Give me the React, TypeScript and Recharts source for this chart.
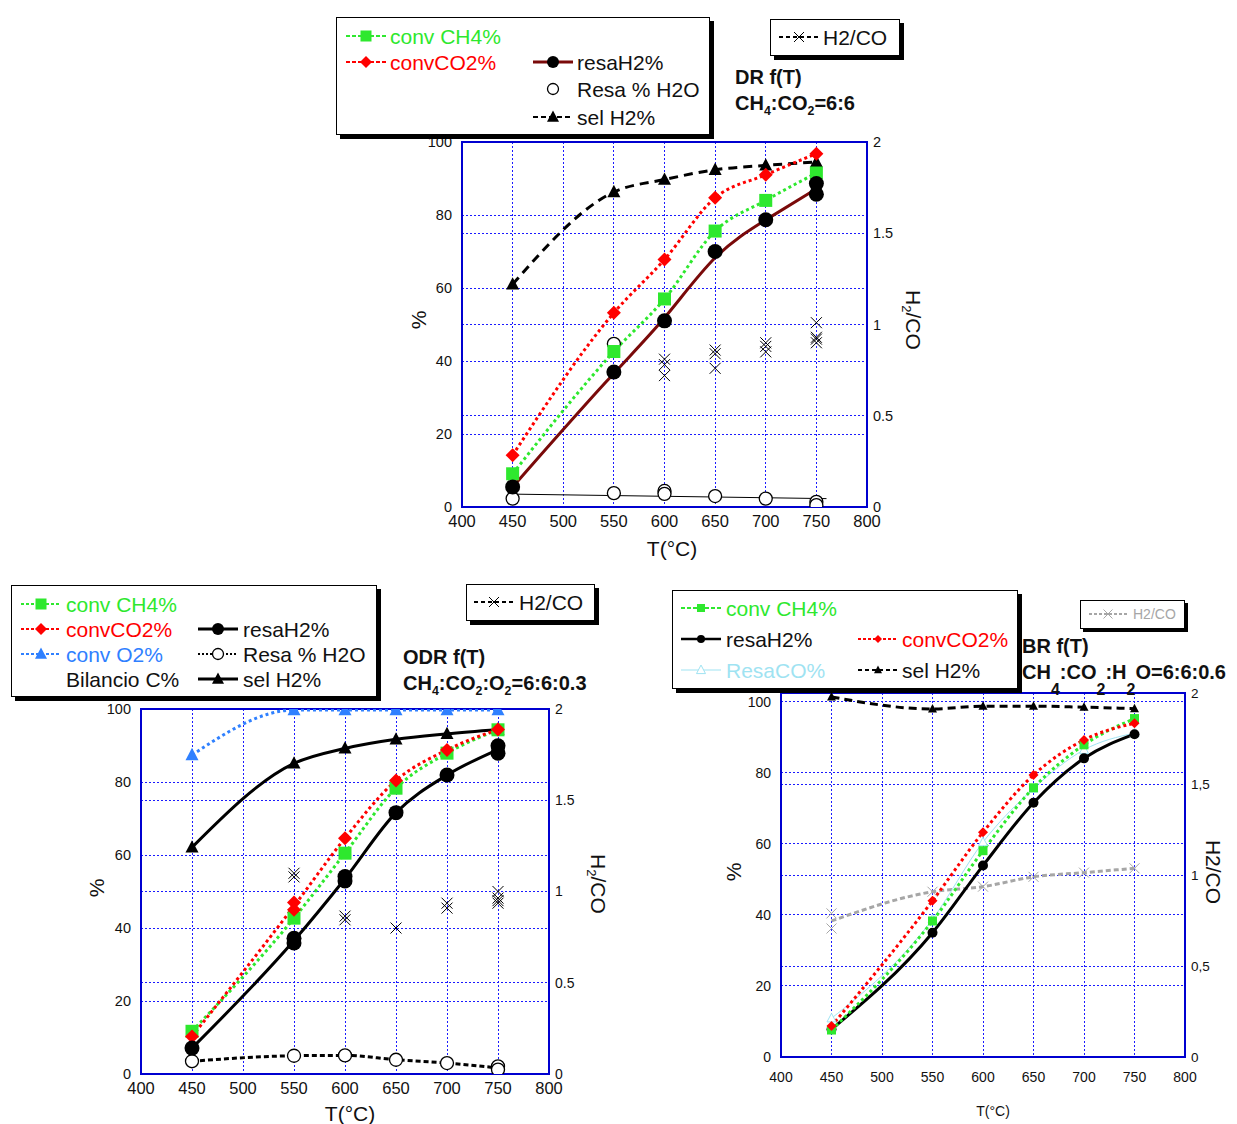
import React from 'react';
import { ComposedChart, Line, Scatter, XAxis, YAxis, CartesianGrid, ReferenceArea } from 'recharts';

type Pt = { t: number; v: number };

// temperatures (°C) and axis ticks
const temps = [450, 550, 600, 650, 700, 750];
const xTicks = [400, 450, 500, 550, 600, 650, 700, 750, 800];
const pctTicks = [0, 20, 40, 60, 80, 100];
const ratioTicks = [0, 0.5, 1, 1.5, 2];

// DR  CH4:CO2 = 6:6
const drConvCH4 = [9.1, 42.6, 57, 75.6, 84, 91.5];
const drConvCO2 = [14.2, 53.2, 67.8, 84.7, 91, 96.8];
const drResaH2 = [5.5, 37, 51, 70, 78.7, 88.6];
const drResaH2Rep = [[750, 85.7]];
const drResaH2O = [2.3, 3.8, 4.4, 3, 2.3, 1.4];
const drResaH2ORep = [[550, 44.7], [600, 3.6], [750, 0.5]];
const drSelH2 = [61, 86.3, 89.7, 92.4, 93.6, 94.5];
const drH2CO = [
  [600, 0.81], [600, 0.78], [600, 0.72], [650, 0.86], [650, 0.84], [650, 0.76],
  [700, 0.9], [700, 0.88], [700, 0.85], [750, 1.01], [750, 0.93], [750, 0.92], [750, 0.9],
];

// ODR  CH4:CO2:O2 = 6:6:0.3
const odrConvCH4 = [11.7, 42.7, 60.5, 78.3, 87.9, 94.3];
const odrConvCO2 = [10.3, 47, 64.6, 80.4, 88.8, 94.4];
const odrConvCO2Rep = [[550, 45]];
const odrConvO2 = [87.4, 99.7, 99.7, 99.7, 99.7, 99.7];
const odrResaH2 = [7.1, 37.2, 54.1, 71.6, 81.9, 89.9];
const odrResaH2Rep = [[550, 35.9], [600, 52.9], [750, 87.9]];
const odrResaH2O = [3.5, 5, 5.1, 3.9, 3, 2.1];
const odrResaH2ORep = [[750, 1.2]];
const odrSelH2 = [62.1, 85.1, 89.2, 91.7, 93.2, 94.4];
const odrH2CO = [
  [550, 1.1], [550, 1.08], [600, 0.865], [600, 0.845], [650, 0.8], [700, 0.936], [700, 0.909],
  [750, 1.0], [750, 0.964], [750, 0.95], [750, 0.936],
];

// BR  CH4:CO2:H2O = 6:6:0.6
const brSelH2 = [101.4, 98.0, 98.8, 98.8, 98.5, 98.1];
const brConvCH4 = [7.6, 38.3, 58.1, 75.8, 87.9, 95.3];
const brConvCO2 = [8.7, 44, 63.3, 79.4, 89.3, 94];
const brResaH2 = [7.8, 35, 53.9, 71.6, 84.1, 90.9];
const brResaCO = [10.9, 38.8, 60.5, 75.6, 86.5, 91.2];
const brH2CO = [0.789, 0.908, 0.936, 0.99, 1.013, 1.037];
const brH2CORep = [[450, 0.706]];

const FONT = '"Liberation Sans", Arial, sans-serif';
const GREEN = '#2ee82e';
const RED = '#ff0000';
const BLUE = '#2f80ff';
const MAROON = '#7a0a0a';
const CYAN = '#9fe3f2';
const GREY = '#a6a6a6';
const GRID = '#1a1aff';

const pts = (ys: number[]): Pt[] => temps.map((t, i) => ({ t, v: ys[i] }));
const pairs = (ps: number[][]): Pt[] => ps.map(([t, v]) => ({ t, v }));
const meanByTemp = (ps: Pt[]): Pt[] => {
  const ts = Array.from(new Set(ps.map((p) => p.t))).sort((a, b) => a - b);
  return ts.map((t) => {
    const vs = ps.filter((p) => p.t === t).map((p) => p.v);
    return { t, v: vs.reduce((a, b) => a + b, 0) / vs.length };
  });
};
// least-squares straight line, drawn between two temperatures
const linearTrend = (ps: Pt[], from: number, to: number): Pt[] => {
  const n = ps.length;
  const mx = ps.reduce((a, p) => a + p.t, 0) / n;
  const my = ps.reduce((a, p) => a + p.v, 0) / n;
  const sxy = ps.reduce((a, p) => a + (p.t - mx) * (p.v - my), 0);
  const sxx = ps.reduce((a, p) => a + (p.t - mx) ** 2, 0);
  const k = sxy / sxx;
  return [from, to].map((t) => ({ t, v: my + k * (t - mx) }));
};

// marker shapes
type Shape = (p: any) => React.ReactElement;
const square = (fill: string, s: number): Shape => (p) => (
  <rect x={p.cx - s / 2} y={p.cy - s / 2} width={s} height={s} fill={fill} />
);
const diamond = (fill: string, s: number): Shape => (p) => (
  <polygon
    points={`${p.cx},${p.cy - s / 2} ${p.cx + s / 2},${p.cy} ${p.cx},${p.cy + s / 2} ${p.cx - s / 2},${p.cy}`}
    fill={fill}
  />
);
const dot = (fill: string, r: number): Shape => (p) => <circle cx={p.cx} cy={p.cy} r={r} fill={fill} />;
const ring = (stroke: string, r: number): Shape => (p) => (
  <circle cx={p.cx} cy={p.cy} r={r} fill="#fff" stroke={stroke} strokeWidth={1.3} />
);
const tri = (fill: string, s: number, open = false): Shape => (p) => (
  <polygon
    points={`${p.cx},${p.cy - s * 0.55} ${p.cx + s / 2},${p.cy + s * 0.4} ${p.cx - s / 2},${p.cy + s * 0.4}`}
    fill={open ? '#fff' : fill}
    stroke={fill}
    strokeWidth={open ? 1 : 0}
  />
);
const xMark = (stroke: string, s: number, w = 1): Shape => (p) => (
  <path
    d={`M${p.cx - s / 2},${p.cy - s / 2}L${p.cx + s / 2},${p.cy + s / 2}M${p.cx - s / 2},${p.cy + s / 2}L${p.cx + s / 2},${p.cy - s / 2}`}
    stroke={stroke}
    strokeWidth={w}
    fill="none"
  />
);

type Series = {
  id: string;
  axis: 'l' | 'r';
  marks: Pt[];
  shape: Shape;
  line?: Pt[];
  stroke?: string;
  width?: number;
  dash?: string;
  curve?: 'monotone' | 'linear' | 'basis';
};

const drResaH2All = [...pts(drResaH2), ...pairs(drResaH2Rep)];
const drSeries: Series[] = [
  {
    id: 'h2o', axis: 'l', marks: [...pts(drResaH2O), ...pairs(drResaH2ORep)], shape: ring('#000', 6.5),
    line: linearTrend(pts(drResaH2O), 450, 760), stroke: '#000', width: 1, curve: 'linear',
  },
  { id: 'sel', axis: 'l', marks: pts(drSelH2), shape: tri('#000', 13), line: pts(drSelH2), stroke: '#000', width: 3, dash: '9 6' },
  { id: 'ch4', axis: 'l', marks: pts(drConvCH4), shape: square(GREEN, 13), line: pts(drConvCH4), stroke: GREEN, width: 3, dash: '3 3' },
  { id: 'co2', axis: 'l', marks: pts(drConvCO2), shape: diamond(RED, 14), line: pts(drConvCO2), stroke: RED, width: 3, dash: '3 3' },
  { id: 'h2', axis: 'l', marks: drResaH2All, shape: dot('#000', 7.5), line: meanByTemp(drResaH2All), stroke: MAROON, width: 3, curve: 'basis' },
  { id: 'h2co', axis: 'r', marks: pairs(drH2CO), shape: xMark('#000', 11) },
];

const odrResaH2All = [...pts(odrResaH2), ...pairs(odrResaH2Rep)];
const odrConvCO2All = [...pts(odrConvCO2), ...pairs(odrConvCO2Rep)];
const odrResaH2OAll = [...pts(odrResaH2O), ...pairs(odrResaH2ORep)];
const odrSeries: Series[] = [
  { id: 'h2o', axis: 'l', marks: odrResaH2OAll, shape: ring('#000', 6.5), line: meanByTemp(odrResaH2OAll), stroke: '#000', width: 3, dash: '5 3' },
  { id: 'o2', axis: 'l', marks: pts(odrConvO2), shape: tri(BLUE, 13), line: pts(odrConvO2), stroke: BLUE, width: 3, dash: '3 3' },
  { id: 'sel', axis: 'l', marks: pts(odrSelH2), shape: tri('#000', 13), line: pts(odrSelH2), stroke: '#000', width: 3 },
  { id: 'ch4', axis: 'l', marks: pts(odrConvCH4), shape: square(GREEN, 13), line: pts(odrConvCH4), stroke: GREEN, width: 3, dash: '3 3' },
  { id: 'co2', axis: 'l', marks: odrConvCO2All, shape: diamond(RED, 14), line: meanByTemp(odrConvCO2All), stroke: RED, width: 3, dash: '3 3' },
  { id: 'h2', axis: 'l', marks: odrResaH2All, shape: dot('#000', 7.5), line: meanByTemp(odrResaH2All), stroke: '#000', width: 3 },
  { id: 'h2co', axis: 'r', marks: pairs(odrH2CO), shape: xMark('#000', 11) },
];

const brH2COAll = [...pts(brH2CO), ...pairs(brH2CORep)];
const brSeries: Series[] = [
  { id: 'h2co', axis: 'r', marks: brH2COAll, shape: xMark(GREY, 10), line: meanByTemp(brH2COAll), stroke: GREY, width: 3, dash: '5 3' },
  { id: 'sel', axis: 'l', marks: pts(brSelH2), shape: tri('#000', 9), line: pts(brSelH2), stroke: '#000', width: 3, dash: '8 5' },
  { id: 'co', axis: 'l', marks: pts(brResaCO), shape: tri(CYAN, 9, true), line: pts(brResaCO), stroke: CYAN, width: 1 },
  { id: 'h2', axis: 'l', marks: pts(brResaH2), shape: dot('#000', 5), line: pts(brResaH2), stroke: '#000', width: 3 },
  { id: 'ch4', axis: 'l', marks: pts(brConvCH4), shape: square(GREEN, 9), line: pts(brConvCH4), stroke: GREEN, width: 3, dash: '3 3' },
  { id: 'co2', axis: 'l', marks: pts(brConvCO2), shape: diamond(RED, 10), line: pts(brConvCO2), stroke: RED, width: 3, dash: '3 3' },
];

type PanelProps = {
  left: number;
  top: number;
  width: number;
  height: number;
  margin: { top: number; right: number; bottom: number; left: number };
  yMax: number;
  ratioFmt: (v: number) => string;
  xFs: number;
  yFs: number;
  rFs: number;
  xGap?: number;
  series: Series[];
};

function Panel({ left, top, width, height, margin, yMax, ratioFmt, xFs, yFs, rFs, xGap = 2, series }: PanelProps) {
  return (
    <div style={{ position: 'absolute', left, top }}>
      <ComposedChart width={width} height={height} margin={margin} style={{ fontFamily: FONT }}>
        <CartesianGrid yAxisId="l" stroke={GRID} strokeDasharray="2 2" strokeWidth={1} shapeRendering="crispEdges" />
        <CartesianGrid yAxisId="r" vertical={false} stroke={GRID} strokeDasharray="2 2" strokeWidth={1} shapeRendering="crispEdges" />
        <XAxis
          dataKey="t" type="number" domain={[400, 800]} ticks={xTicks} interval={0} allowDataOverflow
          axisLine={false} tickLine={false} height={30} tickMargin={xGap} tick={{ fill: '#111', fontSize: xFs }}
        />
        <YAxis
          yAxisId="l" dataKey="v" type="number" domain={[0, yMax]} ticks={pctTicks} interval={0} allowDataOverflow
          axisLine={false} tickLine={false} width={60} tickMargin={4} tick={{ fill: '#111', fontSize: yFs }}
        />
        <YAxis
          yAxisId="r" orientation="right" dataKey="v" type="number" domain={[0, 2]} ticks={ratioTicks} interval={0}
          allowDataOverflow axisLine={false} tickLine={false} width={50} tickSize={4} tickMargin={2}
          tickFormatter={ratioFmt} tick={{ fill: '#111', fontSize: rFs }}
        />
        <ReferenceArea
          yAxisId="l" x1={400} x2={800} y1={0} y2={yMax} fill="none" stroke="#0000d0" strokeWidth={2} ifOverflow="visible"
        />
        {series
          .filter((s) => s.line)
          .map((s) => (
            <Line
              key={`line-${s.id}`}
              data={s.line}
              dataKey="v"
              yAxisId={s.axis}
              type={s.curve ?? 'monotone'}
              stroke={s.stroke}
              strokeWidth={s.width}
              strokeDasharray={s.dash}
              dot={false}
              activeDot={false}
              isAnimationActive={false}
            />
          ))}
        {series.map((s) => (
          <Scatter key={`mk-${s.id}`} data={s.marks} dataKey="v" yAxisId={s.axis} shape={s.shape} isAnimationActive={false} />
        ))}
      </ComposedChart>
    </div>
  );
}

// legend glyph: short line with the series marker in the middle
function Glyph({ stroke, width = 2, dash, shape, len = 42 }: { stroke?: string; width?: number; dash?: string; shape?: Shape; len?: number }) {
  return (
    <svg width={len} height={16} style={{ display: 'block' }}>
      {stroke && <line x1={1} y1={8} x2={len - 1} y2={8} stroke={stroke} strokeWidth={width} strokeDasharray={dash} />}
      {shape && shape({ cx: len / 2, cy: 8 })}
    </svg>
  );
}

function Entry({ gx, tx, y, glyph, label, color = '#111', size = 21, len }: {
  gx?: number; tx: number; y: number; glyph?: React.ReactElement; label: React.ReactNode; color?: string; size?: number; len?: number;
}) {
  return (
    <>
      {glyph && gx !== undefined && (
        <div style={{ position: 'absolute', left: gx, top: y - 8, width: len }}>{glyph}</div>
      )}
      <div style={{ position: 'absolute', left: tx, top: y, transform: 'translateY(-50%)', color, fontSize: size, whiteSpace: 'nowrap', lineHeight: 1 }}>
        {label}
      </div>
    </>
  );
}

function Box({ x, y, w, h, shadow = 4 }: { x: number; y: number; w: number; h: number; shadow?: number }) {
  return (
    <div
      style={{
        position: 'absolute', left: x, top: y, width: w, height: h, boxSizing: 'border-box',
        border: '1.5px solid #000', background: '#fff', boxShadow: `${shadow}px ${shadow}px 0 #000`,
      }}
    />
  );
}

function Text({ x, y, children, size = 20, bold = false, color = '#111', rotate = 0, center = false }: {
  x: number; y: number; children: React.ReactNode; size?: number; bold?: boolean; color?: string; rotate?: number; center?: boolean;
}) {
  return (
    <div
      style={{
        position: 'absolute', left: x, top: y, fontSize: size, fontWeight: bold ? 700 : 400, color, whiteSpace: 'nowrap', lineHeight: 1,
        transform: center ? `translate(-50%, -50%) rotate(${rotate}deg)` : 'translateY(-50%)',
      }}
    >
      {children}
    </div>
  );
}

const sub = (s: string, drop = 5, size = '0.62em') => (
  <span style={{ fontSize: size, position: 'relative', top: drop }}>{s}</span>
);

const dotFmt = (v: number) => String(v);
const commaFmt = (v: number) => String(v).replace('.', ',');

export default function App() {
  return (
    <div style={{ position: 'absolute', left: 0, top: 0, width: 1237, height: 1124, background: '#fff', fontFamily: FONT, overflow: 'hidden' }}>
      {/* DR */}
      <Panel
        left={380} top={130} width={560} height={440}
        margin={{ top: 12, right: 23, bottom: 33, left: 22 }}
        yMax={100} ratioFmt={dotFmt} xFs={16.5} yFs={14.5} rFs={14.5} series={drSeries}
      />
      <Text x={418} y={320} size={21} center rotate={-90}>%</Text>
      <Text x={913} y={320} size={21} center rotate={90}>H{sub('2', 4)}/CO</Text>
      <Text x={672} y={548} size={21} center>T(°C)</Text>

      <Box x={336} y={17} w={374} h={118} />
      <Entry gx={345} tx={390} y={36} glyph={<Glyph stroke={GREEN} dash="4 2" shape={square(GREEN, 11)} />} label="conv CH4%" color={GREEN} />
      <Entry gx={345} tx={390} y={62} glyph={<Glyph stroke={RED} dash="4 2" shape={diamond(RED, 12)} />} label="convCO2%" color={RED} />
      <Entry gx={532} tx={577} y={62} glyph={<Glyph stroke={MAROON} width={3} shape={dot('#000', 6)} />} label="resaH2%" />
      <Entry gx={532} tx={577} y={89} glyph={<Glyph shape={ring('#000', 5.5)} />} label="Resa % H2O" />
      <Entry gx={532} tx={577} y={117} glyph={<Glyph stroke="#000" dash="5 3" shape={tri('#000', 12)} />} label="sel H2%" />

      <Box x={770} y={19} w={130} h={37} />
      <Entry gx={778} tx={823} y={37} glyph={<Glyph stroke="#000" dash="4 3" shape={xMark('#000', 10)} />} label="H2/CO" />
      <Text x={735} y={77} size={20} bold>DR f(T)</Text>
      <Text x={735} y={103} size={20} bold>CH{sub('4')}:CO{sub('2')}=6:6</Text>

      {/* ODR */}
      <Panel
        left={0} top={695} width={640} height={429}
        margin={{ top: 14, right: 41, bottom: 20, left: 81 }}
        yMax={100} ratioFmt={dotFmt} xFs={16.5} yFs={14.5} rFs={14} series={odrSeries}
      />
      <Text x={96} y={888} size={21} center rotate={-90}>%</Text>
      <Text x={598} y={884} size={21} center rotate={90}>H{sub('2', 4)}/CO</Text>
      <Text x={350} y={1113} size={21} center>T(°C)</Text>

      <Box x={11} y={585} w={366} h={112} />
      <Entry gx={20} tx={66} y={604} glyph={<Glyph stroke={GREEN} dash="3 2" shape={square(GREEN, 11)} />} label="conv CH4%" color={GREEN} />
      <Entry gx={20} tx={66} y={629} glyph={<Glyph stroke={RED} dash="3 2" shape={diamond(RED, 12)} />} label="convCO2%" color={RED} />
      <Entry gx={20} tx={66} y={654} glyph={<Glyph stroke={BLUE} dash="3 2" shape={tri(BLUE, 12)} />} label="conv O2%" color={BLUE} />
      <Entry tx={66} y={679} label="Bilancio C%" />
      <Entry gx={197} tx={243} y={629} glyph={<Glyph stroke="#000" width={3} shape={dot('#000', 6)} />} label="resaH2%" />
      <Entry gx={197} tx={243} y={654} glyph={<Glyph stroke="#000" dash="2 2" shape={ring('#000', 5.5)} />} label="Resa % H2O" />
      <Entry gx={197} tx={243} y={679} glyph={<Glyph stroke="#000" width={3} shape={tri('#000', 12)} />} label="sel H2%" />

      <Box x={466} y={584} w={129} h={37} />
      <Entry gx={473} tx={519} y={602} glyph={<Glyph stroke="#000" dash="4 3" shape={xMark('#000', 10)} />} label="H2/CO" />
      <Text x={403} y={657} size={20} bold>ODR f(T)</Text>
      <Text x={403} y={683} size={20} bold>CH{sub('4')}:CO{sub('2')}:O{sub('2')}=6:6:0.3</Text>

      {/* BR */}
      <Panel
        left={700} top={680} width={537} height={444}
        margin={{ top: 13, right: 2, bottom: 37, left: 21 }}
        yMax={102.5} ratioFmt={commaFmt} xFs={14} yFs={14} rFs={13.5} xGap={9} series={brSeries}
      />
      <Text x={733} y={872} size={21} center rotate={-90}>%</Text>
      <Text x={1213} y={872} size={21} center rotate={90}>H2/CO</Text>
      <Text x={993} y={1111} size={14} center>T(°C)</Text>

      <Box x={672} y={590} w={346} h={99} />
      <Entry gx={680} tx={726} y={608} glyph={<Glyph stroke={GREEN} dash="4 2" shape={square(GREEN, 8)} />} label="conv CH4%" color={GREEN} />
      <Entry gx={680} tx={726} y={639} glyph={<Glyph stroke="#000" width={2.5} shape={dot('#000', 4)} />} label="resaH2%" />
      <Entry gx={680} tx={726} y={670} glyph={<Glyph stroke={CYAN} width={1} shape={tri(CYAN, 9, true)} />} label="ResaCO%" color={CYAN} />
      <Entry gx={857} tx={902} y={639} glyph={<Glyph stroke={RED} dash="3 2" shape={diamond(RED, 8)} />} label="convCO2%" color={RED} />
      <Entry gx={857} tx={902} y={670} glyph={<Glyph stroke="#000" dash="4 3" shape={tri('#000', 8)} />} label="sel H2%" />

      <Box x={1080} y={600} w={105} h={29} shadow={3} />
      <Entry gx={1088} tx={1133} y={614} glyph={<Glyph stroke={GREY} dash="3 2" shape={xMark(GREY, 9)} len={40} />} label="H2/CO" color={GREY} size={14} />
      <Text x={1022} y={646} size={20} bold>BR f(T)</Text>
      <Text x={1022} y={672} size={20} bold>
        CH{sub('4', 16, '0.8em')}:CO{sub('2', 16, '0.8em')}:H{sub('2', 16, '0.8em')}O=6:6:0.6
      </Text>
    </div>
  );
}
